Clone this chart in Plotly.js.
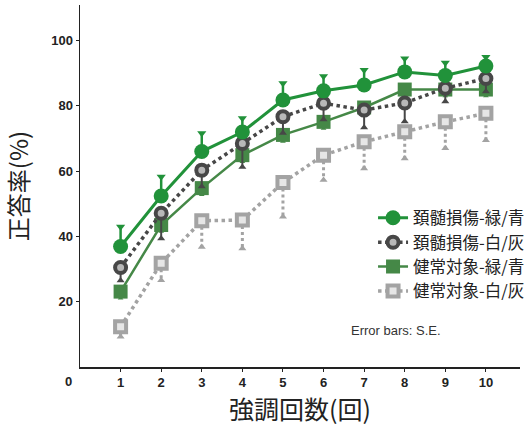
<!DOCTYPE html>
<html>
<head>
<meta charset="utf-8">
<script src="https://cdn.plot.ly/plotly-3.0.1.min.js"></script>
<style>html,body{margin:0;padding:0;background:#fff;}#chart{width:530px;height:426px;}</style>
</head>
<body>
<div id="chart"></div>
<script>
const trials = [1, 2, 3, 4, 5, 6, 7, 8, 9, 10];
const seriesNames = ["頚髄損傷-緑/青", "頚髄損傷-白/灰", "健常対象-緑/青", "健常対象-白/灰"];
const sciGreen   = [36.9, 52.4, 66.0, 72.0, 81.8, 84.6, 86.4, 90.4, 89.3, 92.2];
const sciGreenSE = [6.1, 5.9, 5.6, 4.2, 5.1, 4.5, 4.6, 4.1, 3.9, 2.8];
const sciWhite   = [30.5, 47.1, 60.3, 68.5, 76.7, 80.8, 78.7, 80.9, 85.4, 88.4];
const sciWhiteSE = [4.0, 7.7, 5.0, 7.2, 5.0, 5.0, 5.3, 5.7, 4.1, 4.0];
const ctlGreen   = [23.1, 43.5, 54.8, 64.9, 71.1, 75.1, 79.5, 85.0, 85.0, 85.0];
const ctlGreenSE = [2.0, 2.0, 2.0, 2.0, 2.0, 2.0, 2.0, 2.0, 2.0, 2.0];
const ctlWhite   = [12.3, 31.8, 44.8, 45.0, 56.5, 64.9, 69.0, 72.1, 75.1, 77.7];
const ctlWhiteSE = [3.0, 5.2, 8.0, 8.7, 10.5, 7.6, 8.2, 8.2, 8.1, 8.2];
const yTicks = [20, 40, 60, 80, 100];

function errTraces(vals, ses, dir, color, dash, width, symbol, msize) {
  const lx = [], ly = [], mx = [], my = [];
  trials.forEach((t, i) => {
    const end = vals[i] + dir * ses[i];
    lx.push(t, t, null); ly.push(vals[i], end, null);
    mx.push(t); my.push(end);
  });
  return [
    {x: lx, y: ly, mode: 'lines', line: {color: color, width: width, dash: dash}, showlegend: false, hoverinfo: 'skip'},
    {x: mx, y: my, mode: 'markers', marker: {symbol: symbol, size: msize, color: color}, showlegend: false, hoverinfo: 'skip'}
  ];
}

const cGreen = '#21923a', cGreen2 = '#458847', cDark = '#474747', cGrey = '#a3a3a3';

const traces = [].concat(
  errTraces(ctlWhite, ctlWhiteSE, -1, cGrey, 'dot', 3, 'triangle-up', 7),
  [{x: trials, y: ctlWhite, name: seriesNames[3], mode: 'lines+markers', legendrank: 4,
    line: {color: cGrey, width: 3.5, dash: 'dot'},
    marker: {symbol: 'square', size: 11, color: '#e6e6e6', line: {color: cGrey, width: 4}}}],
  errTraces(ctlGreen, ctlGreenSE, -1, cGreen2, 'solid', 2, 'triangle-up', 5),
  [{x: trials, y: ctlGreen, name: seriesNames[2], mode: 'lines+markers', legendrank: 3,
    line: {color: cGreen2, width: 2.5},
    marker: {symbol: 'square', size: 14, color: cGreen2}}],
  errTraces(sciWhite, sciWhiteSE, -1, cDark, 'solid', 2, 'triangle-up', 7),
  [{x: trials, y: sciWhite, name: seriesNames[1], mode: 'lines+markers', legendrank: 2,
    line: {color: cDark, width: 3.5, dash: 'dot'},
    marker: {symbol: 'circle', size: 11, color: '#b8b8b8', line: {color: cDark, width: 4}}}],
  errTraces(sciGreen, sciGreenSE, 1, cGreen, 'solid', 2.5, 'triangle-down', 8),
  [{x: trials, y: sciGreen, name: seriesNames[0], mode: 'lines+markers', legendrank: 1,
    line: {color: cGreen, width: 3},
    marker: {symbol: 'circle', size: 15, color: cGreen}}]
);

const layout = {
  width: 530, height: 426,
  margin: {l: 80, r: 10, t: 5, b: 59, autoexpand: false},
  paper_bgcolor: '#ffffff', plot_bgcolor: '#ffffff',
  font: {family: 'Liberation Sans, Arial, sans-serif', color: '#222'},
  xaxis: {
    range: [0, 10.84], tickvals: trials, ticktext: trials.map(String),
    showgrid: false, zeroline: false, showline: true, linecolor: '#222', linewidth: 1.5,
    ticks: 'outside', ticklen: 3, tickcolor: '#222',
    tickfont: {size: 13, color: '#222', weight: 'bold'},
    title: {text: '強調回数(回)', font: {family: 'Noto Sans CJK JP', size: 25, color: '#222'}, standoff: 13}
  },
  yaxis: {
    range: [0, 110.9], tickvals: yTicks, ticktext: yTicks.map(String),
    showgrid: false, zeroline: false, showline: true, linecolor: '#222', linewidth: 1.5,
    ticks: 'outside', ticklen: 3, tickcolor: '#222',
    tickfont: {size: 13, color: '#222', weight: 'bold'},
    title: {text: '正答率(%)', font: {family: 'Noto Sans CJK JP', size: 24, color: '#222'}, standoff: 18}
  },
  legend: {
    x: 0.666, y: 0.46, xanchor: 'left', yanchor: 'top',
    bgcolor: 'rgba(0,0,0,0)', traceorder: 'normal', tracegroupgap: 0,
    font: {family: 'Noto Sans CJK JP', size: 16.5, color: '#222'},
    itemwidth: 30
  },
  annotations: [
    {x: -0.027, y: 0, xref: 'paper', yref: 'paper', xanchor: 'center', yanchor: 'top', yshift: -5, text: '0', showarrow: false,
     font: {size: 13, color: '#222', weight: 'bold'}},
    {x: 0.825, y: 0.075, xref: 'paper', yref: 'paper', text: 'Error bars: S.E.', showarrow: false,
     font: {family: 'Liberation Sans, Arial, sans-serif', size: 13, color: '#333'}}
  ],
  showlegend: true
};

Plotly.newPlot('chart', traces, layout, {displayModeBar: false, staticPlot: true});
</script>
</body>
</html>
